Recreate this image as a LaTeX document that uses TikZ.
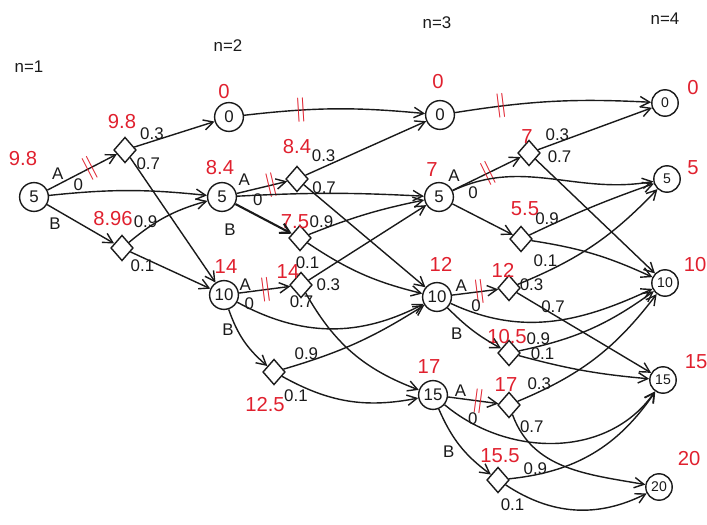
\documentclass[tikz,border=0pt]{standalone}
\usepackage{fontspec}
\setmainfont{Liberation Sans}
\usetikzlibrary{positioning,arrows.meta,shapes.geometric}
\definecolor{ink}{HTML}{1A1A1A}
\definecolor{redink}{HTML}{E0202E}

\begin{document}
\begin{tikzpicture}[x=0.025cm,y=-0.025cm,
  every node/.style={font=\normalsize,text=ink},
  state/.style={circle,draw=ink,line width=1pt,minimum size=7.2mm,inner sep=0pt,font=\large},
  last/.style={state,minimum size=6.6mm,font=\normalsize},
  chance/.style={diamond,draw=ink,line width=1pt,minimum width=5.6mm,minimum height=6.4mm,inner sep=0pt},
  val/.style={text=redink,font=\Large,inner sep=1pt},
  act/.style={font=\large,inner sep=1pt},
  prob/.style={font=\large,inner sep=1pt},
  cut/.style={text=redink,font=\LARGE,sloped,inner sep=0pt},
  arr/.style={-{Straight Barb[length=2.4mm,width=2.6mm]},line width=1pt,ink}]
  \useasboundingbox (0,0) rectangle (707,524);

  \node[font=\large] (n1) at (29,67) {n=1};
  \node[font=\large] (n2) at (228,46) {n=2};
  \node[font=\large] (n3) at (437,23) {n=3};
  \node[font=\large] (n4) at (665,19) {n=4};

  \node[state] (s1) at (34,197) {5};
  \node[state] (s2zero) at (229,117) {0};
  \node[state] (s2five) at (222,197) {5};
  \node[state] (s2ten) at (224,295) {10};
  \node[state] (s3zero) at (440,115) {0};
  \node[state] (s3five) at (439,197) {5};
  \node[state] (s3ten) at (437,297) {10};
  \node[state] (s3fifteen) at (433,395) {15};
  \node[last] (s4zero) at (665,103) {0};
  \node[last] (s4five) at (667,179) {5};
  \node[last] (s4ten) at (665,283) {10};
  \node[last] (s4fifteen) at (663,380) {15};
  \node[last] (s4twenty) at (659,487) {20};

  \node[chance] (c1a) at (125,150) {};
  \node[chance] (c1b) at (122,248) {};
  \node[chance] (c2a5) at (297,179) {};
  \node[chance] (c2b5) at (300,238) {};
  \node[chance] (c2a10) at (301,285) {};
  \node[chance] (c2b10) at (274,372) {};
  \node[chance] (c3a5) at (529,153) {};
  \node[chance] (c3b5) at (521,239) {};
  \node[chance] (c3a10) at (509,288) {};
  \node[chance] (c3b10) at (509,353) {};
  \node[chance] (c3a15) at (509,405) {};
  \node[chance] (c3b15) at (498,480) {};

  \node[val] (v1) at (23,159) {9.8};
  \node[val] (v2zero) at (224,92) {0};
  \node[val] (v2five) at (220,168) {8.4};
  \node[val] (v2ten) at (226,267) {14};
  \node[val] (v3zero) at (438,82) {0};
  \node[val] (v3five) at (432,170) {7};
  \node[val] (v3ten) at (441,264) {12};
  \node[val] (v3fifteen) at (429,367) {17};
  \node[val] (v4zero) at (693,88) {0};
  \node[val] (v4five) at (693,168) {5};
  \node[val] (v4ten) at (695,265) {10};
  \node[val] (v4fifteen) at (696,362) {15};
  \node[val] (v4twenty) at (689,459) {20};
  \node[val] (w1a) at (122,122) {9.8};
  \node[val] (w1b) at (113,219) {8.96};
  \node[val] (w2a5) at (297,147) {8.4};
  \node[val] (w2b5) at (295,222) {7.5};
  \node[val] (w2a10) at (288,272) {14};
  \node[val] (w2b10) at (265,405) {12.5};
  \node[val] (w3a5) at (527,137) {7};
  \node[val] (w3b5) at (525,209) {5.5};
  \node[val] (w3a10) at (503,270) {12};
  \node[val] (w3b10) at (507,337) {10.5};
  \node[val] (w3a15) at (506,385) {17};
  \node[val] (w3b15) at (500,456) {15.5};

  \draw[arr] (s1) -- node[act,pos=0.15,above=2pt]{A} node[cut,pos=0.62]{$\|$} (c1a);
  \draw[arr] (s1) to[bend left=6] node[act,pos=0.17,above]{0} (s2five);
  \draw[arr] (s1) -- node[act,pos=0.25,below left=1pt]{B} (c1b);
  \draw[arr] (c1a) -- node[prob,pos=0.22,above]{0.3} (s2zero);
  \draw[arr] (c1a) -- node[prob,pos=0.05,right]{0.7} (s2ten);
  \draw[arr] (c1b) to[bend left=12] node[prob,pos=0.22,above]{0.9} (s2five);
  \draw[arr] (c1b) -- node[prob,pos=0.15,below]{0.1} (s2ten);

  \draw[arr] (s2zero) to[bend left=6] node[cut,pos=0.3]{$\|$} (s3zero);
  \draw[arr] (s2five) -- node[act,pos=0.15,above=3pt]{A} node[act,pos=0.42,below=2pt]{0} node[cut,pos=0.68]{$\|$} (c2a5);
  \draw[arr] (s2five) to[bend left=3] (s3five);
  \draw[arr,line width=1.5pt] (s2five) -- node[act,pos=0.1,below left=10pt and 2pt]{B} (c2b5);
  \draw[arr] (c2a5) -- node[prob,pos=0.15,above=2pt]{0.3} (s3zero);
  \draw[arr] (c2a5) -- node[prob,pos=0.03,right=2pt]{0.7} (s3ten);
  \draw[arr] (c2b5) to[bend left=5] node[prob,pos=0.1,above=0pt]{0.9} (s3five);
  \draw[arr] (c2b5) to[bend right=10] node[prob,pos=0,below=8pt]{0.1} (s3ten);
  \draw[arr] (s2ten) -- node[act,pos=0.12,above]{A} node[act,pos=0.2,below=3pt]{0} node[cut,pos=0.52]{$\|$} (c2a10);
  \draw[arr] (s2ten) to[bend right=28] (s3ten);
  \draw[arr] (s2ten) to[bend right=15] node[act,pos=0.3,left=1pt]{B} (c2b10);
  \draw[arr] (c2a10) -- node[prob,pos=0.05,below right=0pt]{0.3} (s3five);
  \draw[arr] (c2a10) to[bend right=20] node[prob,pos=0,below=0pt,xshift=-3pt]{0.7} (s3fifteen);
  \draw[arr] (c2b10) to[bend right=8] node[prob,pos=0.14,above=0pt]{0.9} (s3ten);
  \draw[arr] (c2b10) to[bend right=20] node[prob,pos=0.1,below=3pt]{0.1} (s3fifteen);

  \draw[arr] (s3zero) to[bend left=6] node[cut,pos=0.22]{$\|$} (s4zero);
  \draw[arr] (s3five) -- node[act,pos=0.02,above=4pt]{A} node[act,pos=0.3,below=3pt]{0} node[cut,pos=0.52]{$\|$} (c3a5);
  \draw[arr] (s3five) to[out=25,in=190] (s4five);
  \draw[arr] (s3five) -- (c3b5);
  \draw[arr] (c3a5) -- node[prob,pos=0.17,above]{0.3} (s4zero);
  \draw[arr] (c3a5) -- node[prob,pos=0.05,above right=0pt and 3pt]{0.7} (s4ten);
  \draw[arr] (c3b5) to[bend left=3] node[prob,pos=0.13,above]{0.9} (s4five);
  \draw[arr] (c3b5) to[bend left=8] node[prob,pos=0.1,below=7pt]{0.1} (s4ten);
  \draw[arr] (s3ten) -- node[act,pos=0.2,above=0pt]{A} node[cut,pos=0.59]{$\|$} (c3a10);
  \draw[arr] (s3ten) to[out=-25,in=205] node[act,pos=0.12,above=0pt]{0} (s4ten);
  \draw[arr] (s3ten) to[bend right=8] node[act,pos=0.35,below left=1pt]{B} (c3b10);
  \draw[arr] (c3a10) to[bend right=12] node[prob,pos=0,right=0pt]{0.3} (s4five);
  \draw[arr] (c3a10) -- node[prob,pos=0.27,above=0pt]{0.7} (s4fifteen);
  \draw[arr] (c3b10) to[bend right=12] node[prob,pos=0.12,above]{0.9} (s4ten);
  \draw[arr] (c3b10) to[bend right=5] node[prob,pos=0.17,above]{0.1} (s4fifteen);
  \draw[arr] (s3fifteen) -- node[act,pos=0.25,above=0pt]{A} node[cut,pos=0.6]{$\|$} (c3a15);
  \draw[arr] (s3fifteen) to[out=-40,in=235] node[act,pos=0.1,right=1pt]{0} (s4fifteen);
  \draw[arr] (s3fifteen) to[bend right=15] node[act,pos=0.6,left=6pt]{B} (c3b15);
  \draw[arr] (c3a15) to[bend right=15] node[prob,pos=0.12,above]{0.3} (s4ten);
  \draw[arr] (c3a15) to[out=-70,in=170] node[prob,pos=0.08,right]{0.7} (s4twenty);
  \draw[arr] (c3b15) to[bend right=25] node[prob,pos=0.14,above=-1pt]{0.9} (s4fifteen);
  \draw[arr] (c3b15) to[bend right=30] node[prob,pos=0.05,below=5pt]{0.1} (s4twenty);
\end{tikzpicture}
\end{document}
